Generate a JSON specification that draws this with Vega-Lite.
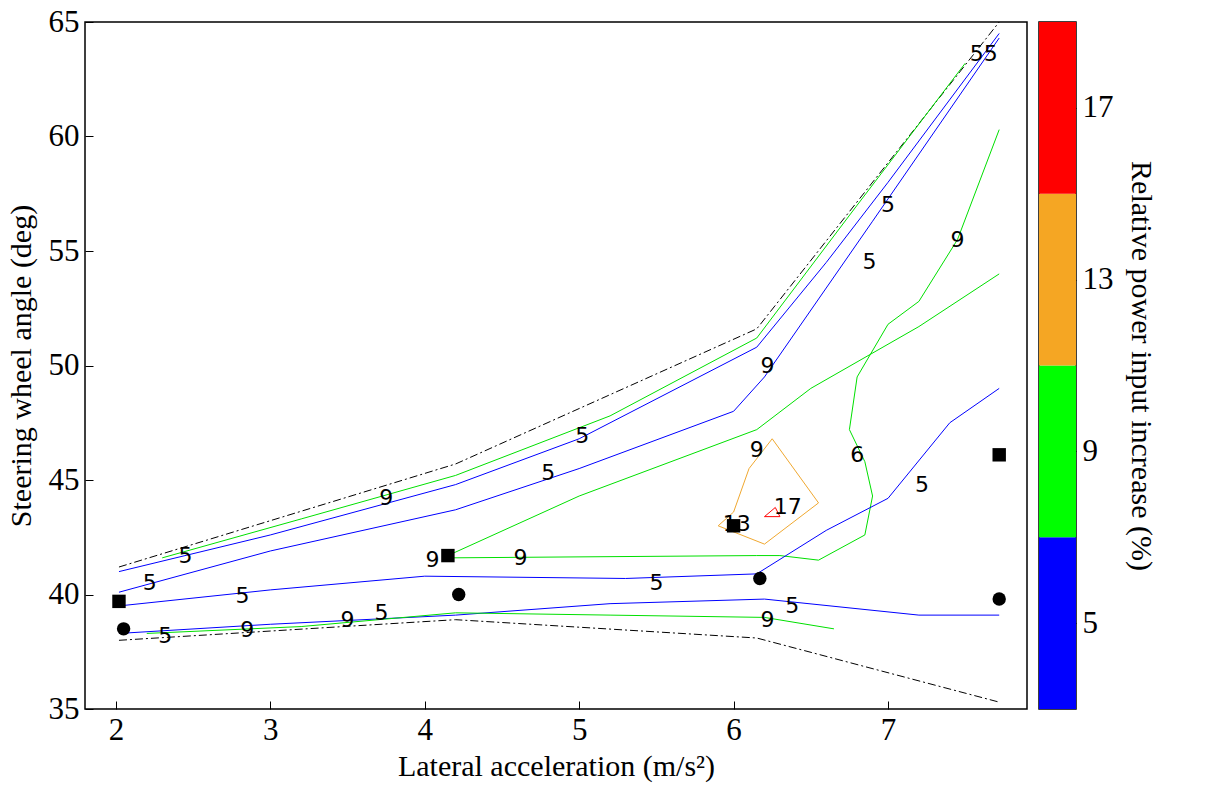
{
  "$schema": "https://vega.github.io/schema/vega-lite/v6.json",
  "background": "white",
  "config": {"font": "Liberation Serif", "view": {"stroke": "black", "strokeWidth": 1.5}, "axis": {"labelFontSize": 31, "titleFontSize": 30, "titleFontWeight": "normal", "labelColor": "black", "titleColor": "black", "domain": false, "grid": false, "tickColor": "black", "tickSize": -8, "labelPadding": 14}},
  "spacing": 10,
  "resolve": {"scale": {"x": "independent", "y": "independent", "color": "independent"}},
  "hconcat": [
    {
      "width": 942, "height": 687,
      "encoding": {
        "x": {"field": "x", "type": "quantitative", "scale": {"domain": [1.8, 7.9], "nice": false, "zero": false}, "axis": {"values": [2,3,4,5,6,7], "format": "d", "title": "Lateral acceleration (m/s²)", "titlePadding": 6}},
        "y": {"field": "y", "type": "quantitative", "scale": {"domain": [35, 65], "nice": false, "zero": false}, "axis": {"values": [35,40,45,50,55,60,65], "title": "Steering wheel angle (deg)", "titlePadding": 12}}
      },
      "layer": [
        {
          "data": {"values": [
            {"c":"u","i":0,"x":2.02,"y":41.2},{"c":"u","i":1,"x":4.2,"y":45.7},{"c":"u","i":2,"x":6.15,"y":51.6},{"c":"u","i":3,"x":7.72,"y":65},
            {"c":"d","i":0,"x":2.02,"y":38.0},{"c":"d","i":1,"x":4.2,"y":38.9},{"c":"d","i":2,"x":6.15,"y":38.1},{"c":"d","i":3,"x":7.72,"y":35.3}
          ]},
          "mark": {"type": "line", "color": "black", "strokeWidth": 1, "strokeDash": [8, 3, 2, 3]},
          "encoding": {"detail": {"field": "c"}, "order": {"field": "i"}}
        },
        {
          "data": {"values": [
            {"c":"b1","l":"5","i":0,"x":2.02,"y":41.0},{"c":"b1","l":"5","i":1,"x":3.0,"y":42.6},{"c":"b1","l":"5","i":2,"x":4.2,"y":44.8},{"c":"b1","l":"5","i":3,"x":5.0,"y":46.8},{"c":"b1","l":"5","i":4,"x":6.15,"y":50.8},{"c":"b1","l":"5","i":5,"x":6.6,"y":54.5},{"c":"b1","l":"5","i":6,"x":7.0,"y":58.0},{"c":"b1","l":"5","i":7,"x":7.72,"y":64.5},
            {"c":"g1","l":"9","i":0,"x":2.3,"y":41.6},{"c":"g1","l":"9","i":1,"x":3.2,"y":43.3},{"c":"g1","l":"9","i":2,"x":4.2,"y":45.2},{"c":"g1","l":"9","i":3,"x":5.2,"y":47.8},{"c":"g1","l":"9","i":4,"x":6.15,"y":51.2},{"c":"g1","l":"9","i":5,"x":6.8,"y":57.0},{"c":"g1","l":"9","i":6,"x":7.5,"y":63.2},
            {"c":"b2","l":"5","i":0,"x":2.02,"y":40.1},{"c":"b2","l":"5","i":1,"x":3.0,"y":41.9},{"c":"b2","l":"5","i":2,"x":4.2,"y":43.7},{"c":"b2","l":"5","i":3,"x":5.0,"y":45.5},{"c":"b2","l":"5","i":4,"x":6.0,"y":48.0},{"c":"b2","l":"5","i":5,"x":6.2,"y":49.5},{"c":"b2","l":"5","i":6,"x":6.9,"y":56.3},{"c":"b2","l":"5","i":7,"x":7.72,"y":64.3},
            {"c":"g2","l":"9","i":0,"x":4.15,"y":41.7},{"c":"g2","l":"9","i":1,"x":5.0,"y":44.3},{"c":"g2","l":"9","i":2,"x":6.15,"y":47.2},{"c":"g2","l":"9","i":3,"x":6.5,"y":49.0},{"c":"g2","l":"9","i":4,"x":7.2,"y":51.7},{"c":"g2","l":"9","i":5,"x":7.72,"y":54.0},
            {"c":"g3","l":"9","i":0,"x":7.72,"y":60.3},{"c":"g3","l":"9","i":1,"x":7.45,"y":55.5},{"c":"g3","l":"9","i":2,"x":7.2,"y":52.8},{"c":"g3","l":"9","i":3,"x":7.0,"y":51.8},{"c":"g3","l":"9","i":4,"x":6.8,"y":49.5},{"c":"g3","l":"9","i":5,"x":6.75,"y":47.2},{"c":"g3","l":"9","i":6,"x":6.85,"y":45.8},{"c":"g3","l":"9","i":7,"x":6.9,"y":44.3},{"c":"g3","l":"9","i":8,"x":6.85,"y":42.6},{"c":"g3","l":"9","i":9,"x":6.55,"y":41.5},{"c":"g3","l":"9","i":10,"x":6.3,"y":41.7},{"c":"g3","l":"9","i":11,"x":6.15,"y":41.7},{"c":"g3","l":"9","i":12,"x":4.15,"y":41.6},
            {"c":"b3","l":"5","i":0,"x":2.02,"y":39.5},{"c":"b3","l":"5","i":1,"x":3.0,"y":40.2},{"c":"b3","l":"5","i":2,"x":4.0,"y":40.8},{"c":"b3","l":"5","i":3,"x":5.3,"y":40.7},{"c":"b3","l":"5","i":4,"x":6.15,"y":40.9},{"c":"b3","l":"5","i":5,"x":6.6,"y":42.8},{"c":"b3","l":"5","i":6,"x":7.0,"y":44.2},{"c":"b3","l":"5","i":7,"x":7.4,"y":47.5},{"c":"b3","l":"5","i":8,"x":7.72,"y":49.0},
            {"c":"b4","l":"5","i":0,"x":2.02,"y":38.3},{"c":"b4","l":"5","i":1,"x":3.0,"y":38.7},{"c":"b4","l":"5","i":2,"x":4.2,"y":39.1},{"c":"b4","l":"5","i":3,"x":5.2,"y":39.6},{"c":"b4","l":"5","i":4,"x":6.2,"y":39.8},{"c":"b4","l":"5","i":5,"x":7.2,"y":39.1},{"c":"b4","l":"5","i":6,"x":7.72,"y":39.1},
            {"c":"g4","l":"9","i":0,"x":2.2,"y":38.3},{"c":"g4","l":"9","i":1,"x":3.2,"y":38.6},{"c":"g4","l":"9","i":2,"x":4.2,"y":39.2},{"c":"g4","l":"9","i":3,"x":5.2,"y":39.1},{"c":"g4","l":"9","i":4,"x":6.2,"y":39.0},{"c":"g4","l":"9","i":5,"x":6.65,"y":38.5},
            {"c":"o1","l":"13","i":0,"x":5.9,"y":43.0},{"c":"o1","l":"13","i":1,"x":6.2,"y":42.2},{"c":"o1","l":"13","i":2,"x":6.55,"y":44.0},{"c":"o1","l":"13","i":3,"x":6.25,"y":46.8},{"c":"o1","l":"13","i":4,"x":6.1,"y":45.5},{"c":"o1","l":"13","i":5,"x":6.0,"y":43.6},{"c":"o1","l":"13","i":6,"x":5.9,"y":43.0},
            {"c":"r1","l":"17","i":0,"x":6.2,"y":43.4},{"c":"r1","l":"17","i":1,"x":6.3,"y":43.4},{"c":"r1","l":"17","i":2,"x":6.27,"y":43.8},{"c":"r1","l":"17","i":3,"x":6.2,"y":43.4}
          ]},
          "mark": {"type": "line", "strokeWidth": 1},
          "encoding": {
            "detail": {"field": "c"}, "order": {"field": "i"},
            "color": {"field": "l", "type": "nominal", "scale": {"domain": ["5","9","13","17"], "range": ["#0000ff","#00e000","#f0a830","#ff0000"]}, "legend": null}
          }
        },
        {
          "data": {"values": [
            {"t":"5","x":2.45,"y":41.7},{"t":"5","x":2.22,"y":40.5},{"t":"5","x":2.82,"y":39.95},{"t":"5","x":2.32,"y":38.2},{"t":"9","x":2.85,"y":38.45},{"t":"9","x":3.75,"y":44.2},{"t":"5","x":5.02,"y":46.9},{"t":"5","x":4.8,"y":45.3},{"t":"9","x":6.22,"y":50.0},{"t":"9","x":6.15,"y":46.3},{"t":"9","x":4.05,"y":41.5},{"t":"9","x":4.62,"y":41.6},{"t":"9","x":3.5,"y":38.9},{"t":"5","x":3.72,"y":39.2},{"t":"5","x":5.5,"y":40.5},{"t":"9","x":6.22,"y":38.9},{"t":"5","x":6.38,"y":39.5},{"t":"13","x":6.02,"y":43.1},{"t":"17","x":6.35,"y":43.8},{"t":"6","x":6.8,"y":46.1},{"t":"5","x":7.22,"y":44.8},{"t":"5","x":6.88,"y":54.5},{"t":"5","x":7.0,"y":57.0},{"t":"9","x":7.45,"y":55.5},{"t":"55","x":7.62,"y":63.6}
          ]},
          "mark": {"type": "text", "font": "DejaVu Sans", "fontSize": 22, "color": "black"},
          "encoding": {"text": {"field": "t"}}
        },
        {
          "data": {"values": [
            {"s":"square","x":2.02,"y":39.7},{"s":"square","x":4.15,"y":41.7},{"s":"square","x":6.0,"y":43.0},{"s":"square","x":7.72,"y":46.1},
            {"s":"circle","x":2.05,"y":38.5},{"s":"circle","x":4.22,"y":40.0},{"s":"circle","x":6.17,"y":40.7},{"s":"circle","x":7.72,"y":39.8}
          ]},
          "mark": {"type": "point", "filled": true, "color": "black", "opacity": 1, "size": 180},
          "encoding": {"shape": {"field": "s", "type": "nominal", "scale": {"domain": ["square","circle"], "range": ["square","circle"]}, "legend": null}}
        }
      ]
    },
    {
      "width": 37, "height": 687,
      "data": {"values": [
        {"lo":3,"hi":7,"k":"a"},{"lo":7,"hi":11,"k":"b"},{"lo":11,"hi":15,"k":"c"},{"lo":15,"hi":19,"k":"d"}
      ]},
      "mark": {"type": "rect"},
      "encoding": {
        "y": {"field": "lo", "type": "quantitative", "scale": {"domain": [3, 19], "nice": false}, "axis": {"orient": "right", "values": [5,9,13,17], "title": "Relative power input increase (%)", "titlePadding": 12}},
        "y2": {"field": "hi"},
        "color": {"field": "k", "type": "nominal", "scale": {"domain": ["a","b","c","d"], "range": ["#0000ff","#00ff00","#f5a623","#ff0000"]}, "legend": null}
      }
    }
  ]
}
